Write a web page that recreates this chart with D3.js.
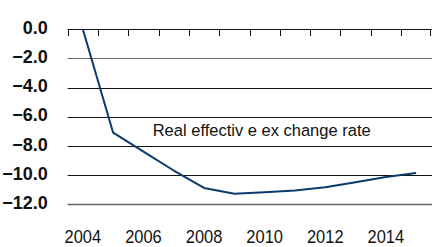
<!DOCTYPE html>
<html>
<head>
<meta charset="utf-8">
<script src="https://cdn.jsdelivr.net/npm/d3@7"></script>
<style>
  html, body { margin: 0; padding: 0; background: #fff; }
  svg { display: block; font-family: "Liberation Sans", Arial, sans-serif; }
</style>
</head>
<body>
<div id="chart"></div>
<script>
const years = [2004, 2005, 2006, 2007, 2008, 2009, 2010, 2011, 2012, 2013, 2014, 2015];
const reer = [0.0, -7.1, -8.4, -9.7, -10.9, -11.3, -11.2, -11.07, -10.85, -10.5, -10.15, -9.87];
const yTicks = [0, -2, -4, -6, -8, -10, -12];
const xLabels = [2004, 2006, 2008, 2010, 2012, 2014];
const seriesLabel = "Real effectiv e ex change rate";

const width = 432, height = 247;
const svg = d3.select("#chart").append("svg")
    .attr("width", width)
    .attr("height", height);

const x = d3.scaleBand().domain(years).range([67.7, 431.3]).padding(0);
const y = d3.scaleLinear().domain([-12, 0]).range([204, 29.3]);
const crisp = v => Math.round(v) + 0.5;

// horizontal gridlines
svg.append("g").selectAll("line")
    .data(yTicks)
    .join("line")
    .attr("x1", x.range()[0])
    .attr("x2", width)
    .attr("y1", d => crisp(y(d)))
    .attr("y2", d => crisp(y(d)))
    .attr("stroke", d => (d === -12 || d === -2) ? "#666" : "#111")
    .attr("stroke-width", d => d === -12 ? 1.5 : 1);

// y labels
svg.append("g").selectAll("text")
    .data(yTicks)
    .join("text")
    .attr("x", 47.7)
    .attr("y", d => y(d) + 4.8)
    .attr("text-anchor", "end")
    .attr("font-size", 18)
    .attr("font-weight", "bold")
    .attr("fill", "#111")
    .text(d => d3.format(".1f")(d));

// ticks on the top axis, at band boundaries
const tickPos = years.map(d => x(d)).concat([x.range()[1] - 1]);
svg.append("g").selectAll("line")
    .data(tickPos)
    .join("line")
    .attr("x1", d => crisp(d))
    .attr("x2", d => crisp(d))
    .attr("y1", crisp(y(0)))
    .attr("y2", crisp(y(0)) + 6.5)
    .attr("stroke", "#111")
    .attr("stroke-width", 1);

// x labels (slightly condensed like the source)
svg.append("g").selectAll("text")
    .data(xLabels)
    .join("text")
    .attr("transform", d => `translate(${x(d) + x.bandwidth() / 2},243.3) scale(0.94,1)`)
    .attr("text-anchor", "middle")
    .attr("font-size", 17.5)
    .attr("fill", "#111")
    .text(d => d);

// series line
const line = d3.line()
    .x((d, i) => x(years[i]) + x.bandwidth() / 2)
    .y(d => y(d));

svg.append("path")
    .datum(reer)
    .attr("d", line)
    .attr("fill", "none")
    .attr("stroke", "#0b3a6c")
    .attr("stroke-width", 2)
    .attr("stroke-linejoin", "round");

// series label
svg.append("text")
    .attr("transform", "translate(152.7,135.7) scale(0.96,1)")
    .attr("font-size", 17.2)
    .attr("fill", "#111")
    .text(seriesLabel);
</script>
</body>
</html>
